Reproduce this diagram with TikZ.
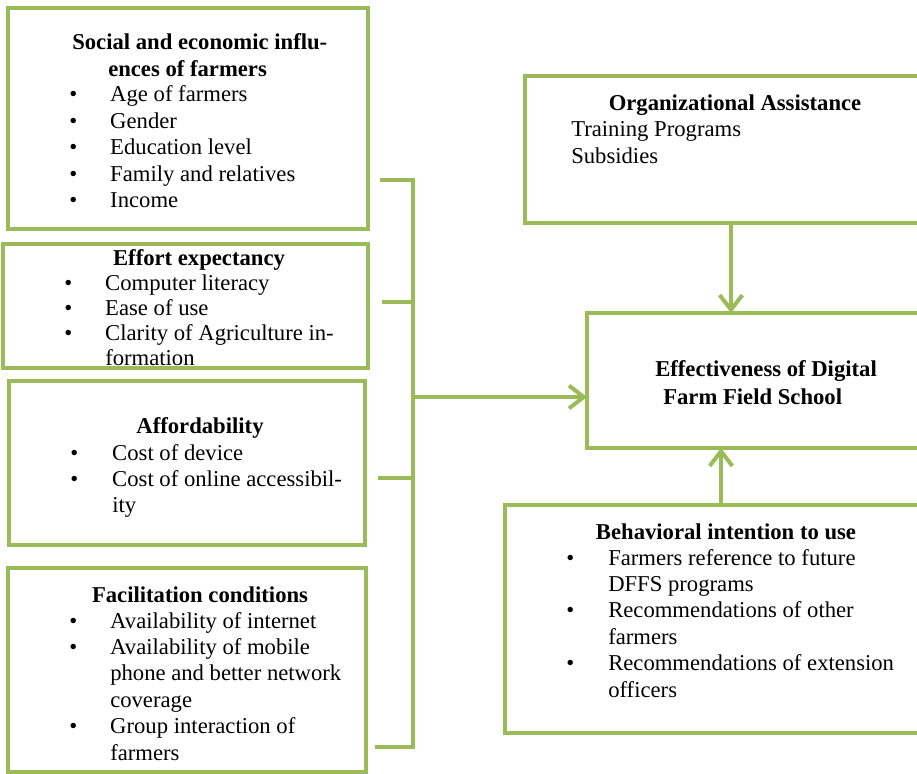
\documentclass[tikz,border=0pt]{standalone}
\usepackage{fontspec}
\setmainfont{Liberation Serif}
\usetikzlibrary{arrows.meta,positioning}
\definecolor{boxgreen}{RGB}{155,187,89}

\begin{document}
\begin{tikzpicture}
  [
    x=0.75pt, y=-0.75pt,
    font=\fontsize{17}{19.8}\selectfont,
    Box/.style={rectangle, draw=boxgreen, line width=3pt, anchor=north west, inner sep=0pt, outer sep=0pt},
    Head/.style={anchor=base, inner sep=0pt, font=\fontsize{17}{19.8}\selectfont\bfseries},
    List/.style={anchor=base west, inner sep=0pt},
    Link/.style={draw=boxgreen, line width=3pt},
    Arrow/.style={Link, -{Straight Barb[length=11pt,width=17pt]}}
  ]
  \useasboundingbox (0,0) rectangle (917,774);

  % Boxes
  \node[Box, minimum width=270pt, minimum height=165.75pt] (social) at (8,8) {};
  \node[Box, minimum width=273.75pt, minimum height=93pt] (effort) at (3,244) {};
  \node[Box, minimum width=267pt, minimum height=123pt] (afford) at (9,381) {};
  \node[Box, minimum width=268.5pt, minimum height=153pt] (facil) at (8,568) {};
  \node[Box, minimum width=309pt, minimum height=110.25pt] (org) at (525,76) {};
  \node[Box, minimum width=262.5pt, minimum height=101.25pt] (eff) at (587,313) {};
  \node[Box, minimum width=324pt, minimum height=171pt] (beh) at (505,505) {};

  % Texts
  \node[Head, anchor=base west] (socialhead) at (72,50)
    {\begin{tabular}[t]{@{}l@{}}Social and economic influ-\\\hspace*{27pt}ences of farmers\end{tabular}};
  \node[List] (sociallist) at (69,102)
    {\begin{tabular}[t]{@{}p{30.75pt}@{}l@{}}
      \textbullet & Age of farmers\\
      \textbullet & Gender\\
      \textbullet & Education level\\
      \textbullet & Family and relatives\\
      \textbullet & Income
    \end{tabular}};

  \node[Head] (efforthead) at (199,265) {Effort expectancy};
  \node[List] (effortlist) at (64,290)
    {\def\arraystretch{0.95}\begin{tabular}[t]{@{}p{30.75pt}@{}l@{}}
      \textbullet & Computer literacy\\
      \textbullet & Ease of use\\
      \textbullet & Clarity of Agriculture in-\\
                  & formation
    \end{tabular}};

  \node[Head] (affordhead) at (200,433) {Affordability};
  \node[List] (affordlist) at (70,460)
    {\begin{tabular}[t]{@{}p{31.5pt}@{}l@{}}
      \textbullet & Cost of device\\
      \textbullet & Cost of online accessibil-\\
                  & ity
    \end{tabular}};

  \node[Head] (facilhead) at (200,602) {Facilitation conditions};
  \node[List] (facillist) at (69,628)
    {\begin{tabular}[t]{@{}p{30.75pt}@{}l@{}}
      \textbullet & Availability of internet\\
      \textbullet & Availability of mobile\\
                  & phone and better network\\
                  & coverage\\
      \textbullet & Group interaction of\\
                  & farmers
    \end{tabular}};

  \node[Head] (orghead) at (735,110) {Organizational Assistance};
  \node[List] (orglist) at (571,137)
    {\begin{tabular}[t]{@{}l@{}}Training Programs\\Subsidies\end{tabular}};

  \node[Head, anchor=base west] (effhead) at (655,376)
    {\begin{tabular}[t]{@{}l@{}}Effectiveness of Digital\\[1.3pt]\hspace*{6pt}Farm Field School\end{tabular}};

  \node[Head] (behhead) at (726,539) {Behavioral intention to use};
  \node[List] (behlist) at (566,565)
    {\begin{tabular}[t]{@{}p{31.5pt}@{}l@{}}
      \textbullet & Farmers reference to future\\
                  & DFFS programs\\
      \textbullet & Recommendations of other\\
                  & farmers\\
      \textbullet & Recommendations of extension\\
                  & officers
    \end{tabular}};

  % Bracket
  \coordinate (s1) at (380,180);
  \coordinate (s2) at (382,302);
  \coordinate (s3) at (378,478);
  \coordinate (s4) at (375,747);
  \coordinate (j) at (413,397);
  \draw[Link] (s1) -| (j) |- (s4);
  \draw[Link] (s2) -- (s2 -| j);
  \draw[Link] (s3) -- (s3 -| j);

  % Arrows
  \draw[Arrow] (j) -- (j -| eff.west);
  \draw[Arrow] (org.south) -- (org.south |- eff.north);
  \draw[Arrow] (beh.north) -- (beh.north |- eff.south);
\end{tikzpicture}
\end{document}
